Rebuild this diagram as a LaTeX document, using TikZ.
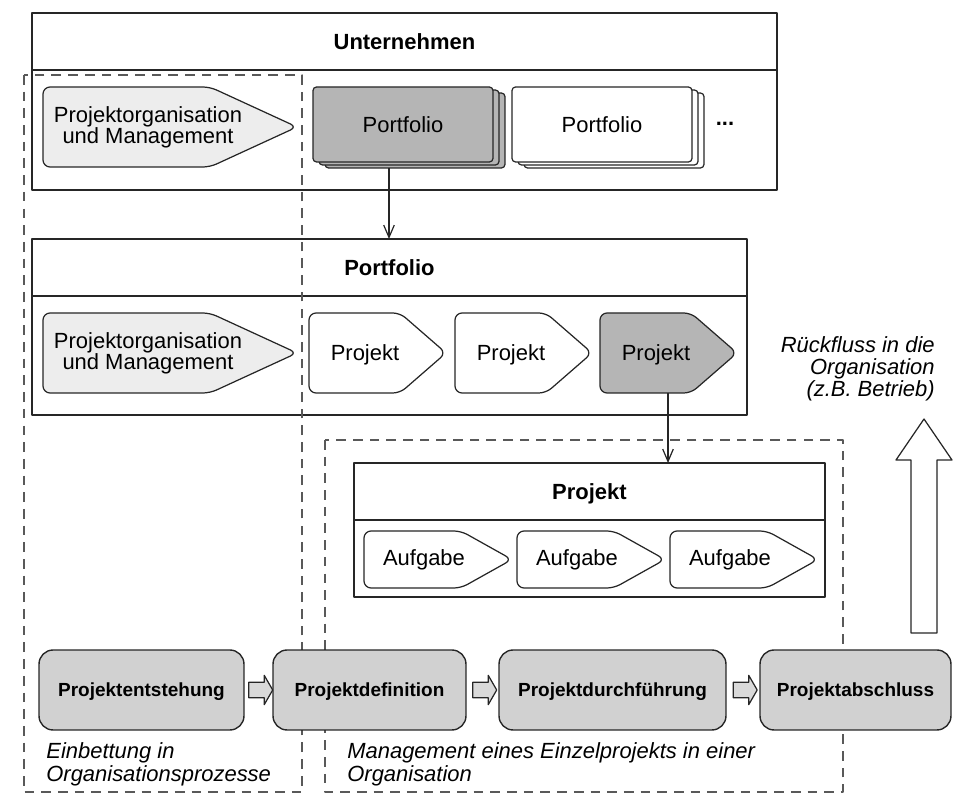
\documentclass[tikz,border=0pt]{standalone}
\usepackage{fontspec}
\setmainfont{Liberation Sans}
\usetikzlibrary{calc,shapes.arrows,arrows.meta}

\definecolor{hellgrau}{gray}{0.93}
\definecolor{dunkelgrau}{gray}{0.71}
\definecolor{phasengrau}{gray}{0.82}
\definecolor{pfeilgrau}{gray}{0.85}
\definecolor{linie}{gray}{0.15}
\definecolor{strichlinie}{gray}{0.35}

% Fuenfeck-Pfeil: Optionen, links, oben, Knick, Spitze, unten
\newcommand{\pfeilform}[6]{%
  \draw[#1] (#2,#3) -- (#4,#3) -- (#5,{(#3+#6)/2}) -- (#4,#6) -- (#2,#6) -- cycle;}

\begin{document}
\begin{tikzpicture}[x=0.02cm, y=-0.02cm, line join=round,
    >={Straight Barb[length=7pt,width=6pt]},
    rahmen/.style={draw=linie, line width=0.8pt, inner sep=0pt, outer sep=0pt},
    titel/.style={font=\bfseries\fontsize{12.5}{13}\selectfont, text height=9pt, text depth=0pt},
    txt/.style={font=\fontsize{12.5}{12}\selectfont, align=center},
    einzeilig/.style={text height=9pt, text depth=0pt},
    form/.style={draw=linie, line width=0.7pt, rounded corners=4pt},
    stapel/.style={draw=linie, line width=0.7pt, rounded corners=2pt, outer sep=0pt,
      minimum width=3.6cm, minimum height=1.5cm},
    phase/.style={draw=linie, line width=0.8pt, fill=phasengrau, rounded corners=8pt,
      minimum height=1.6cm, font=\bfseries\fontsize{10.8}{13}\selectfont,
      text height=7.7pt, text depth=0pt},
    bereich/.style={draw=strichlinie, line width=0.7pt, dash pattern=on 5.5pt off 4pt},
    kursiv/.style={font=\itshape\fontsize{12.5}{13}\selectfont, inner sep=0pt},
    verbinder/.style={->, draw=linie, line width=0.7pt},
    blockpfeil/.style={single arrow, draw=linie, line width=0.7pt, fill=pfeilgrau,
      inner xsep=0pt, inner ysep=4pt, minimum height=0.48cm,
      single arrow head extend=4pt, single arrow head indent=0pt, single arrow tip angle=120}]

    \useasboundingbox (0,0) rectangle (965,803);

    % Ebenen
    \node[rahmen, anchor=north west, minimum width=14.9cm, minimum height=3.54cm] (unt) at (32,13) {};
    \node[rahmen, anchor=north west, minimum width=14.3cm, minimum height=3.52cm] (pbox) at (32,239) {};
    \node[rahmen, anchor=north west, minimum width=9.42cm, minimum height=2.68cm] (prbox) at (354,463) {};
    \foreach \r in {unt,pbox,prbox}
        \draw[draw=linie, line width=0.8pt] ($(\r.north west)+(0,57)$) -- ($(\r.north east)+(0,57)$);

    \node[titel] (untitel) at ($(unt.north)+(0,28.5)$) {Unternehmen};
    \node[titel] (ptitel) at ($(pbox.north)+(0,28.5)$) {Portfolio};
    \node[titel] (prtitel) at ($(prbox.north)+(0,28.5)$) {Projekt};

    % Bereiche
    \draw[bereich] (24,75) rectangle (302,792);
    \draw[bereich] (325,440) rectangle (843,792);

    % Projektorganisation
    \pfeilform{form, fill=hellgrau}{43}{87}{210}{297}{167}
    \pfeilform{form, fill=hellgrau}{43}{313}{210}{297}{393}
    \node[txt] (org1) at (148,127.5) {Projektorganisation\\und Management};
    \node[txt] (org2) at (148,353.5) {Projektorganisation\\und Management};

    % Portfolios
    \foreach \d in {12,6}
        \node[stapel, fill=dunkelgrau, anchor=north west] (pfg\d) at (313+\d,87+\d/2) {};
    \node[stapel, txt, einzeilig, fill=dunkelgrau, anchor=north west] (pfgrau) at (313,87) {Portfolio};
    \foreach \d in {12,6}
        \node[stapel, fill=white, anchor=north west] (pfw\d) at (512+\d,87+\d/2) {};
    \node[stapel, txt, einzeilig, fill=white, anchor=north west] (pfweiss) at (512,87) {Portfolio};
    \node[txt] (mehr) at (725,124) {\textbf{...}};

    % Projekte
    \foreach \l/\f/\n in {309/white/1,455/white/2,600/dunkelgrau/3} {
        \pfeilform{form, fill=\f}{\l}{313}{\l+91}{\l+137}{393}
        \node[txt, einzeilig] (prj\n) at (\l+56,353) {Projekt};
    }

    % Aufgaben
    \foreach \l/\n in {364/1,517/2,670/3} {
        \pfeilform{form, fill=white}{\l}{531}{\l+97}{\l+148}{588}
        \node[txt, einzeilig] (auf\n) at (\l+60,558) {Aufgabe};
    }

    % Verbindungen
    \coordinate (pffuss) at (389,168);
    \draw[verbinder] (pffuss) -- (pffuss |- pbox.north);
    \coordinate (prjfuss) at (668,393);
    \draw[verbinder] (prjfuss) -- (prjfuss |- prbox.north);

    % Phasen
    \node[phase, minimum width=4.1cm] (ph1) at (141.5,690) {Projektentstehung};
    \node[phase, minimum width=3.86cm] (ph2) at (369.5,690) {Projektdefinition};
    \node[phase, minimum width=4.54cm] (ph3) at (612.5,690) {Projektdurchführung};
    \node[phase, minimum width=3.82cm] (ph4) at (855.5,690) {Projektabschluss};
    \foreach \a/\b in {ph1/ph2,ph2/ph3,ph3/ph4}
        \node[blockpfeil] (\a\b) at ($(\a.east)!0.5!(\b.west)$) {};

    % Rueckfluss
    \draw[form, rounded corners=0pt, fill=white] (911,633) -- (911,460) -- (896,460) -- (924,419)
        -- (952,460) -- (937,460) -- (937,633) -- cycle;
    \node[kursiv, align=right, anchor=north east, font=\itshape\fontsize{12.5}{12.5}\selectfont]
        (rueck) at (935,336) {Rückfluss in die\\Organisation\\(z.B. Betrieb)};

    \node[kursiv, align=left, anchor=north west] (einb) at (46,742) {Einbettung in\\Organisationsprozesse};
    \node[kursiv, align=left, anchor=north west] (mgmt) at (347,742) {Management eines Einzelprojekts in einer\\Organisation};
\end{tikzpicture}
\end{document}
